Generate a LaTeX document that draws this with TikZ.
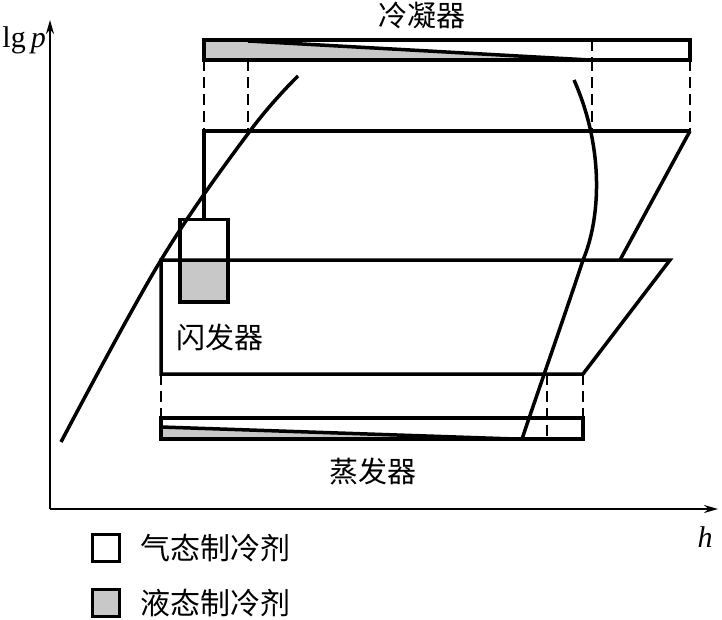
\documentclass[tikz,border=0pt]{standalone}
\usepackage{fontspec}
\setmainfont{Liberation Serif}
\newfontfamily\cjk{Noto Sans CJK SC}
\usetikzlibrary{arrows.meta}
\definecolor{liq}{RGB}{200,200,200}
\tikzset{
  thickln/.style={line width=3.5pt},
  dashln/.style={line width=2.2pt, dash pattern=on 11pt off 6pt},
  axisln/.style={line width=2pt, -{Stealth[length=14pt,width=8pt]}},
  cjklabel/.style={font=\cjk\fontsize{29}{31}\selectfont, inner sep=0pt},
  leglabel/.style={font=\cjk\fontsize{30}{32}\selectfont, inner sep=0pt},
  latlabel/.style={font=\fontsize{30}{32}\selectfont, inner sep=0pt},
  legbox/.style={draw, line width=3.5pt, minimum width=27pt, minimum height=27pt, inner sep=0pt}
}
\begin{document}
\begin{tikzpicture}[x=1pt,y=-1pt]
\useasboundingbox (0,0) rectangle (722,620);
% coordinates
\coordinate (O) at (50,509);
\coordinate (Ytip) at (50,20);
\coordinate (Xtip) at (718,509);
% condenser
\coordinate (c1) at (204,40); \coordinate (c2) at (690,60);
% evaporator
\coordinate (e1) at (161,418); \coordinate (e2) at (583,439);
% high pressure line
\coordinate (h1) at (204,131); \coordinate (h2) at (690,131);
\coordinate (h3) at (620,260);
% intermediate line
\coordinate (m1) at (161,260); \coordinate (m2) at (670,260);
% low line
\coordinate (l1) at (161,374); \coordinate (l2) at (583,374);
% saturated vapour curve points
\coordinate (v1) at (574,80); \coordinate (v2) at (583,260); \coordinate (v3) at (522,439);
% fills
\fill[liq] (204,40) -- (248,41) -- (590,60) -- (204,60) -- cycle;
\fill[liq] (161,427) -- (515,439) -- (161,439) -- cycle;
\fill[liq] (178,261) rectangle (226,300);
% axes
\draw[axisln] (O) -- (Ytip);
\draw[axisln] (O) -- (Xtip);
% condenser box
\draw[thickln] (248,41) -- (590,60);
\draw[thickln] (c1) rectangle (c2);
\draw[dashln] (592,40) -- (592,60);
% evaporator box
\draw[thickln] (161,427) -- (515,439);
\draw[thickln] (e1) rectangle (e2);
% dashed verticals
\draw[dashln] (204,60) -- (h1);
\draw[dashln] (248,60) -- (248,131);
\draw[dashln] (592,60) -- (592,131);
\draw[dashln] (690,60) -- (h2);
\draw[dashln] (l1) -- (e1);
\draw[dashln] (547,374) -- (547,439);
\draw[dashln] (l2) -- (583,418);
% cycle lines
\draw[thickln] (h2) -- (h1) -- (204,218);
\draw[thickln] (h2) -- (h3);
\draw[thickln] (l1) -- (m1) -- (m2) -- (l2) -- cycle;
% flash tank
\node[draw, line width=3.5pt, minimum width=48pt, minimum height=82pt, inner sep=0pt, anchor=north west] (tank) at (178,218) {};
% saturation curves
\draw[thickln] plot[smooth, tension=0.6] coordinates {(61,442) (161,260) (250,131) (298,76)};
\draw[thickln] (v1) .. controls (605,150) and (600,220) .. (v2)
  .. controls (570,300) and (535,400) .. (v3);
% labels
\node[cjklabel] (lc) at (422,15) {冷凝器};
\node[cjklabel] (lf) at (220,337) {闪发器};
\node[cjklabel] (le) at (373,472) {蒸发器};
\node[latlabel, anchor=east] (ly) at (46,40) {lg\,\textit{p}};
\node[latlabel] (lx) at (705,537) {\textit{h}};
% legend
\node[legbox, fill=white] (b1) at (106,548) {};
\node[legbox, fill=liq] (b2) at (106,603) {};
\node[leglabel, anchor=west] (t1) at (140,548) {气态制冷剂};
\node[leglabel, anchor=west] (t2) at (140,603) {液态制冷剂};
\end{tikzpicture}
\end{document}
